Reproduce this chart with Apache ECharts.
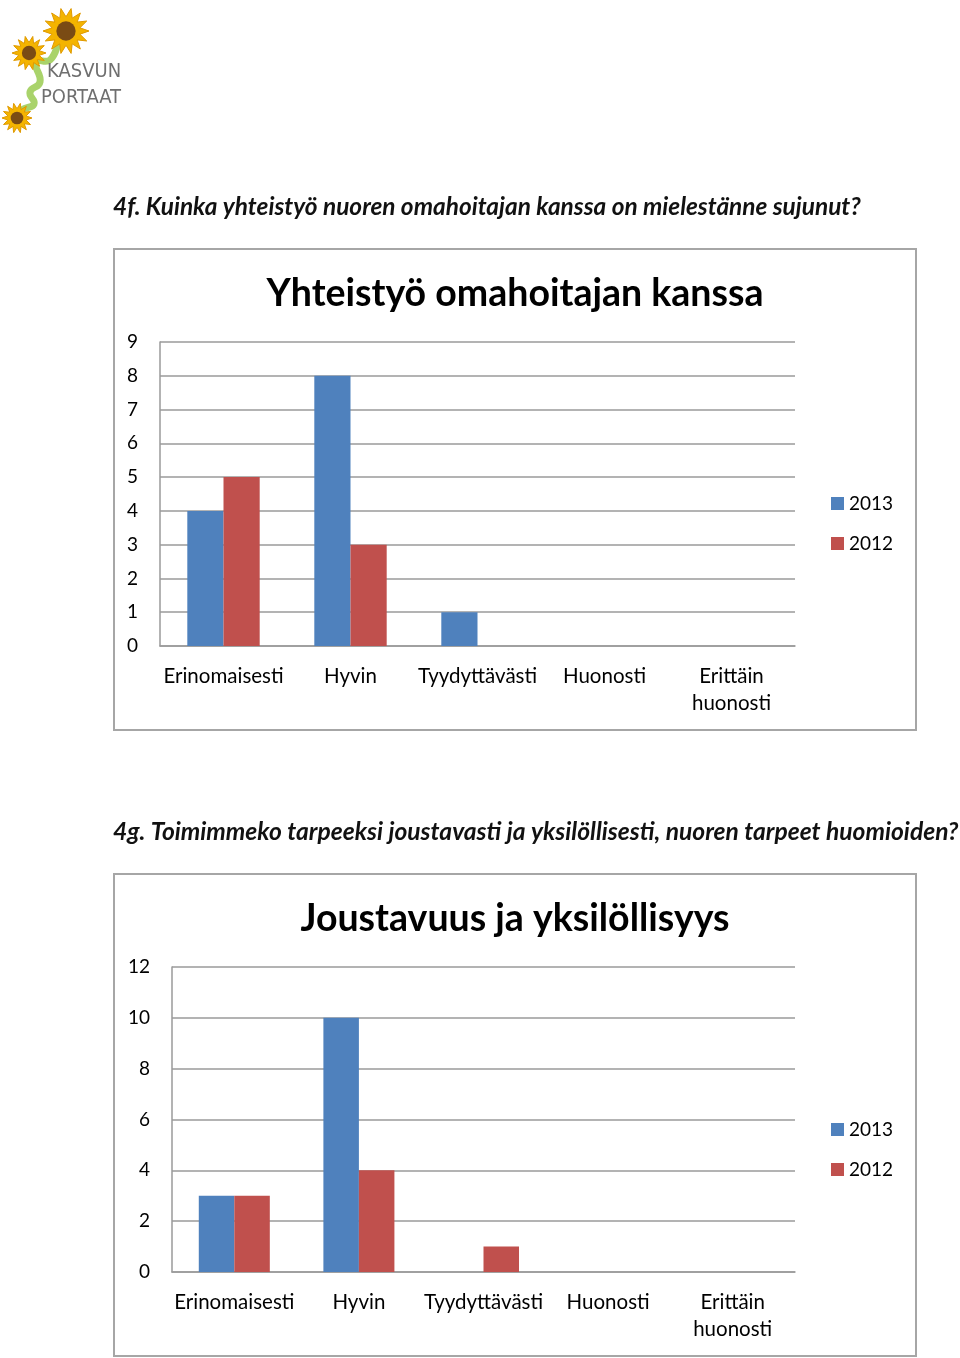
<!DOCTYPE html>
<html>
<head>
<meta charset="utf-8">
<script src="https://cdn.jsdelivr.net/npm/echarts@6/dist/echarts.min.js"></script>
<style>
  html, body { margin: 0; padding: 0; background: #fff; }
  #chart { width: 960px; height: 1358px; }
</style>
</head>
<body>
<div id="chart"></div>
<script>
// data
const categories = ['Erinomaisesti', 'Hyvin', 'Tyydyttävästi', 'Huonosti', 'Erittäin\nhuonosti']
const seriesNames = ['2013', '2012']
const coop2013 = [4, 8, 1, 0, 0]
const coop2012 = [5, 3, 0, 0, 0]
const flex2013 = [3, 10, 0, 0, 0]
const flex2012 = [3, 4, 1, 0, 0]

const font = 'Lato, "Open Sans", sans-serif'
const blue = '#4f81bd'
const red = '#c0504d'
const gridGrey = '#9a9a9a'

// sunflower shape for the logo
function flower(cx, cy, r) {
  const pts = []
  const n = 14
  for (let i = 0; i < n * 2; i++) {
    const a = (Math.PI * i) / n
    const rr = i % 2 === 0 ? r : r * 0.62
    pts.push([cx + rr * Math.cos(a), cy + rr * Math.sin(a)])
  }
  return [
    { type: 'polygon', shape: { points: pts }, style: { fill: '#f4b400', stroke: '#e09a00', lineWidth: 1 } },
    { type: 'circle', shape: { cx: cx, cy: cy, r: r * 0.42 }, style: { fill: '#7a4b14' } }
  ]
}

const logo = [
  {
    type: 'polyline',
    shape: { points: [[58, 42], [50, 60], [36, 62], [40, 82], [30, 92], [34, 104], [22, 110], [18, 118]], smooth: 0.5 },
    style: { stroke: '#a9d36b', lineWidth: 7, fill: null }
  }
].concat(flower(66, 31, 23), flower(29, 53, 17), flower(17, 118, 15), [
  { type: 'text', left: 47, top: 62, style: { text: 'KASVUN', font: '20px "DejaVu Sans Condensed", sans-serif', fill: '#6f6f6f' } },
  { type: 'text', left: 41, top: 88, style: { text: 'PORTAAT', font: '20px "DejaVu Sans Condensed", sans-serif', fill: '#6f6f6f' } }
])

function yAxis(gridIndex, max, interval) {
  return {
    type: 'value',
    gridIndex: gridIndex,
    min: 0,
    max: max,
    interval: interval,
    axisLine: { show: true, lineStyle: { color: gridGrey, width: 1.5 } },
    axisTick: { show: false },
    axisLabel: { color: '#000', fontSize: 19, fontFamily: font, margin: 22 },
    splitLine: { show: true, lineStyle: { color: gridGrey, width: 1.5 } }
  }
}

function xAxis(gridIndex) {
  return {
    type: 'category',
    gridIndex: gridIndex,
    data: categories,
    axisLine: { show: true, lineStyle: { color: gridGrey, width: 1.5 } },
    axisTick: { show: false },
    axisLabel: { color: '#000', fontSize: 20.5, fontFamily: font, margin: 17, lineHeight: 27, interval: 0 }
  }
}

function bars(name, data, color, idx) {
  return {
    name: name,
    type: 'bar',
    xAxisIndex: idx,
    yAxisIndex: idx,
    data: data,
    barGap: 0,
    barCategoryGap: '43%',
    itemStyle: { color: color },
    animation: false
  }
}

function legend(top) {
  return {
    orient: 'vertical',
    left: 826,
    top: top,
    icon: 'rect',
    itemWidth: 13,
    itemHeight: 13,
    itemGap: 21,
    data: seriesNames,
    textStyle: { fontSize: 19, color: '#000', fontFamily: font }
  }
}

const chart = echarts.init(document.getElementById('chart'))
chart.setOption({
  backgroundColor: '#fff',
  animation: false,
  title: [
    { text: 'Yhteistyö omahoitajan kanssa', left: 510, top: 270, textAlign: 'center',
      textStyle: { fontSize: 37.5, fontWeight: 'bold', color: '#000', fontFamily: font } },
    { text: 'Joustavuus ja yksilöllisyys', left: 510, top: 895, textAlign: 'center',
      textStyle: { fontSize: 37.5, fontWeight: 'bold', color: '#000', fontFamily: font } }
  ],
  graphic: logo.concat([
    { type: 'text', left: 113, top: 195,
      style: { text: '4f. Kuinka yhteistyö nuoren omahoitajan kanssa on mielestänne sujunut?',
        font: 'italic bold 24.4px ' + font, fill: '#111' } },
    { type: 'text', left: 113, top: 820,
      style: { text: '4g. Toimimmeko tarpeeksi joustavasti ja yksilöllisesti, nuoren tarpeet huomioiden?',
        font: 'italic bold 24.6px ' + font, fill: '#111' } },
    { type: 'rect', shape: { x: 114, y: 249, width: 802, height: 481 },
      style: { fill: null, stroke: '#a6a6a6', lineWidth: 2 }, z: -1 },
    { type: 'rect', shape: { x: 114, y: 874, width: 802, height: 482 },
      style: { fill: null, stroke: '#a6a6a6', lineWidth: 2 }, z: -1 }
  ]),
  legend: [legend(489), legend(1115)],
  grid: [
    { left: 160, top: 342, width: 635, height: 304 },
    { left: 172, top: 967, width: 623, height: 305 }
  ],
  xAxis: [xAxis(0), xAxis(1)],
  yAxis: [yAxis(0, 9, 1), yAxis(1, 12, 2)],
  series: [
    bars('2013', coop2013, blue, 0),
    bars('2012', coop2012, red, 0),
    bars('2013', flex2013, blue, 1),
    bars('2012', flex2012, red, 1)
  ]
})
</script>
</body>
</html>
